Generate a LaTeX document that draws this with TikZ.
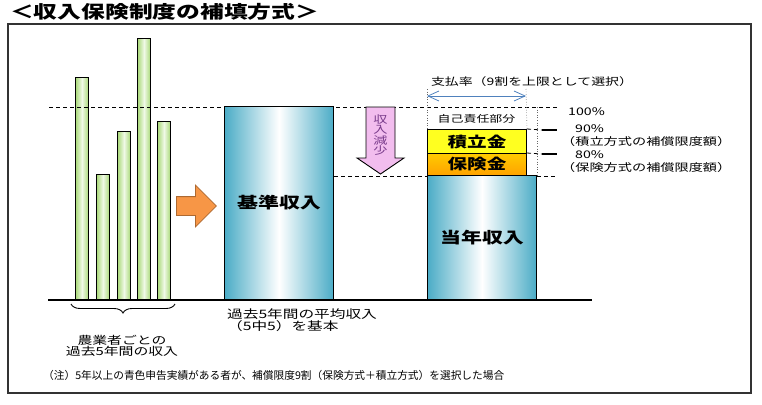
\documentclass[tikz,border=0pt]{standalone}
\usepackage{fontspec}
\setmainfont{Noto Sans CJK JP}[FakeStretch=1.35]
\newfontfamily\notefont{Noto Sans CJK JP}
\usetikzlibrary{arrows.meta,shapes.arrows,decorations.pathreplacing}
\newcommand{\fsz}[1]{\fontsize{#1}{#1}\selectfont}
\definecolor{bargreen}{HTML}{A8D878}
\definecolor{greenmid}{HTML}{F0F9E6}
\definecolor{barteal}{HTML}{4BACC6}
\definecolor{arroworange}{HTML}{F79646}
\definecolor{arrowpink}{HTML}{F2BDEE}
\definecolor{textpurple}{HTML}{7A3C8C}
\definecolor{payblue}{HTML}{4F81BD}
\definecolor{reserveyellow}{HTML}{FFFF20}
\definecolor{insorange}{HTML}{FFB400}
\tikzset{greenbar/.style={draw=black,line width=1pt,anchor=south west,inner sep=0pt,minimum width=13pt,
    left color=bargreen,right color=bargreen,middle color=greenmid},
  incomebar/.style={draw=black,line width=1pt,anchor=south west,inner sep=0pt,minimum width=109pt,
    left color=barteal,right color=barteal,middle color=white,font=\fsz{15.5}\bfseries},
  layerbox/.style={draw=black,line width=1pt,anchor=south west,inner sep=0pt,minimum width=99pt,font=\fsz{14.5}\bfseries},
  levelline/.style={line width=.8pt,dash pattern=on 4pt off 3pt},
  guideline/.style={draw=black!60,line width=.6pt,dotted},
  marker/.style={line width=1.8pt},
  payarrow/.style={{Straight Barb[length=11pt,width=10pt]}-{Straight Barb[length=11pt,width=10pt]},draw=payblue,line width=.8pt},
  smalltext/.style={font=\fsz{10.5},inner sep=0pt}}

\begin{document}
\begin{tikzpicture}[x=1pt,y=-1pt]
\path[use as bounding box] (0,0) rectangle (762,404);
\node[anchor=west,font=\fsz{17.6}\bfseries,inner sep=0pt] (title) at (10,12) {＜収入保険制度の補填方式＞};
\draw[black!80,line width=1.5pt] (8,24) rectangle (751,393);
% past five years
\foreach \n/\x/\h in {1/75/222,2/96/125,3/117/168,4/137/261,5/157/178}
  \node[greenbar,minimum height=\h pt] (y\n) at (\x,300) {};
\coordinate (full l) at (49,107); \coordinate (full r) at (557,107);
\draw[levelline] (full l) -- (full r);
\node[single arrow,fill=arroworange,draw=arroworange!70!black,line width=.8pt,minimum height=40pt,
  single arrow head extend=11.5pt,inner xsep=0pt,inner ysep=9pt,anchor=west] (toavg) at (176,206) {};
\node[incomebar,minimum height=193pt] (basis) at (224,300) {基準収入};
% income drop
\coordinate (cut r) at (557,176);
\draw[levelline] (basis.east |- cut r) -- (cut r);
\draw[fill=arrowpink,line width=.9pt] (366,107) -- (395,107) -- (395,158) -- (404,158) -- (380.5,174)
  -- (357,158) -- (366,158) -- cycle;
\node[align=center,text=textpurple,font=\fsz{10.5},inner sep=0pt] (drop) at (380.5,135)
  {\baselineskip=12pt 収\\入\\減\\少};
% current year
\node[incomebar,minimum height=124pt] (current) at (427,300) {当年収入};
\node[layerbox,minimum height=22pt,top color=insorange!70!yellow,bottom color=insorange!90!red] (insurance) at (427,176) {保険金};
\node[layerbox,minimum height=24pt,fill=reserveyellow] (reserve) at (427,154) {積立金};
\node[smalltext,font=\fsz{9.6}] (self) at (476.5,119) {自己責任部分};
\coordinate (guide l) at (427,89); \coordinate (guide r) at (526,89);
\draw[guideline] (guide l) -- (reserve.north west);
\draw[guideline] (guide r) -- (reserve.north east);
\draw[guideline] (current.north east |- full r) -- (current.north east);
\coordinate (pay l) at (427,96); \coordinate (pay r) at (526,96);
\draw[payarrow] (pay l) -- (pay r);
\node[smalltext,font=\fsz{10.3}] (payrate) at (532,82) {支払率（9割を上限として選択）};
% limits
\coordinate (mark90) at (542,130); \coordinate (mark80) at (542,154);
\draw[levelline] (reserve.north east) -- (mark90);
\draw[levelline] (insurance.north east) -- (mark80);
\draw[marker] (mark90) -- ++(15,0);
\draw[marker] (mark80) -- ++(15,0);
\node[smalltext,anchor=west] (p100) at (568,112) {100\%};
\node[smalltext,anchor=west] (p90) at (575,129) {90\%};
\node[smalltext,anchor=west] (lim90) at (561,142) {（積立方式の補償限度額）};
\node[smalltext,anchor=west] (p80) at (575,155) {80\%};
\node[smalltext,anchor=west] (lim80) at (561,168) {（保険方式の補償限度額）};
% ground line and captions
\coordinate (base l) at (48,300); \coordinate (base r) at (592,300);
\draw[line width=2pt] (base l) -- (base r);
\coordinate (brace l) at (71,304); \coordinate (brace r) at (175,304);
\draw[line width=.9pt,decorate,decoration={brace,mirror,amplitude=9pt}] (brace l) -- (brace r);
\node[smalltext,font=\fsz{11},align=center] (farmer) at (122,346) {\baselineskip=13pt 農業者ごとの\\過去5年間の収入};
\node[smalltext,font=\fsz{11.6},align=left,anchor=north west] (avgnote) at (227,309) {\baselineskip=13pt 過去5年間の平均収入\\（5中5）を基本};
\node[anchor=west,inner sep=0pt,font=\notefont\fsz{10.7}] (footnote) at (43,375)
  {（注）5年以上の青色申告実績がある者が、補償限度9割（保険方式＋積立方式）を選択した場合};
\end{tikzpicture}
\end{document}
